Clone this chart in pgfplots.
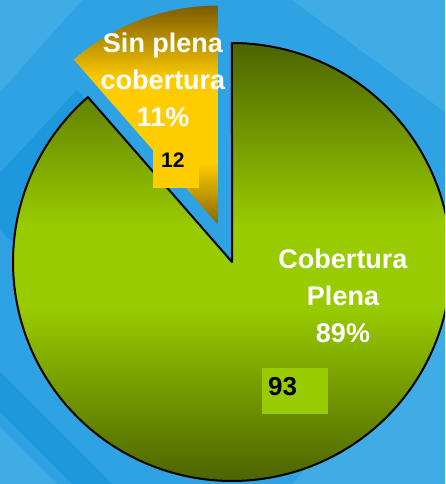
\documentclass[border=0pt]{standalone}
\usepackage{pgfplots}
\pgfplotsset{compat=1.18}
\usepackage{fontspec}
\setmainfont{Liberation Sans}
\definecolor{bgbase}{HTML}{2EA2E2}
\definecolor{bglight}{HTML}{40ACE6}
\definecolor{bgdark}{HTML}{1E98DC}
\definecolor{gdark}{HTML}{4C6400}
\definecolor{gmid}{HTML}{99CC00}
\definecolor{ydark}{HTML}{7C5C00}
\definecolor{ymid}{HTML}{FFCC00}
% the shading's inner band 25bp..75bp is fitted to the path's bounding box
\pgfdeclareverticalshading{gshade}{100bp}{color(0bp)=(gdark); color(25bp)=(gdark); color(45bp)=(gmid); color(54bp)=(gmid); color(75bp)=(gdark); color(100bp)=(gdark)}
\pgfdeclareverticalshading{yshade}{100bp}{color(0bp)=(ydark); color(25bp)=(ydark!92!ymid); color(39bp)=(ymid); color(58bp)=(ymid); color(75bp)=(ydark); color(100bp)=(ydark)}
\begin{document}
\begin{tikzpicture}
% values of the two slices
\def\vA{93}
\def\vB{12}
\def\R{219}
\def\expl{40}
\pgfmathsetmacro{\angB}{90+360*\vB/(\vA+\vB)}
\pgfmathsetmacro{\bis}{(90+\angB)/2}
\pgfmathsetmacro{\dx}{\expl*cos(\bis)}
\pgfmathsetmacro{\dy}{\expl*sin(\bis)}
\begin{axis}[
  name=ax,
  scale only axis, width=445pt, height=484pt,
  xmin=-232, xmax=213, ymin=-222, ymax=262,
  hide axis, clip=true,
  axis background/.style={fill=bgbase},
]
% background decoration
\fill[bgdark] (axis cs:-232,89) -- (axis cs:-155,172) -- (axis cs:-72,72) -- (axis cs:-212,12) -- (axis cs:-232,32) -- cycle;
\fill[bglight] (axis cs:-232,262) -- (axis cs:-150,262) -- (axis cs:-232,170) -- cycle;
\fill[bgdark] (axis cs:-232,-110) -- (axis cs:-232,-150) -- (axis cs:-160,-222) -- (axis cs:-120,-222) -- cycle;
\fill[bglight] (axis cs:-232,-165) -- (axis cs:-232,-222) -- (axis cs:-175,-222) -- cycle;
\fill[bglight] (axis cs:213,-40) -- (axis cs:213,-222) -- (axis cs:60,-222) -- cycle;
\fill[bglight] (axis cs:60,262) -- (axis cs:213,262) -- (axis cs:213,150) -- cycle;
% green slice (Cobertura Plena)
\addplot[draw=black, line width=2pt, line join=round,
  shade, shading=gshade,
  domain=\angB:450, samples=240, variable=\t]
  ({\R*cos(t)},{\R*sin(t)}) -- (axis cs:0,0) -- cycle;
% gold slice (Sin plena cobertura), exploded
\addplot[draw=none, shade, shading=yshade,
  domain=90:\angB, samples=60, variable=\t]
  ({\dx+\R*cos(t)},{\dy+\R*sin(t)}) -- (axis cs:\dx,\dy) -- cycle;
% value boxes
\fill[ymid] (axis cs:-79,74) rectangle (axis cs:-33,117);
\fill[gmid] (axis cs:30,-152) rectangle (axis cs:96,-106);
\node[anchor=base west, inner sep=0pt, font=\fontsize{21}{24}\selectfont\bfseries] at (axis cs:-71,94) {12};
\node[anchor=base west, inner sep=0pt, font=\fontsize{26}{30}\selectfont\bfseries] at (axis cs:36,-134) {93};
% labels
\begin{scope}[every node/.style={anchor=base, inner sep=0pt, text=white, font=\fontsize{27}{37}\selectfont\bfseries}]
\node at (axis cs:-69,209) {Sin plena};
\node at (axis cs:-69,172) {cobertura};
\node at (axis cs:-69,135) {11\%};
\node at (axis cs:111,-7) {Cobertura};
\node at (axis cs:111,-44) {Plena};
\node at (axis cs:111,-81) {89\%};
\end{scope}
\end{axis}
\pgfresetboundingbox
\useasboundingbox (ax.south west) rectangle (ax.north east);
\end{tikzpicture}
\end{document}
